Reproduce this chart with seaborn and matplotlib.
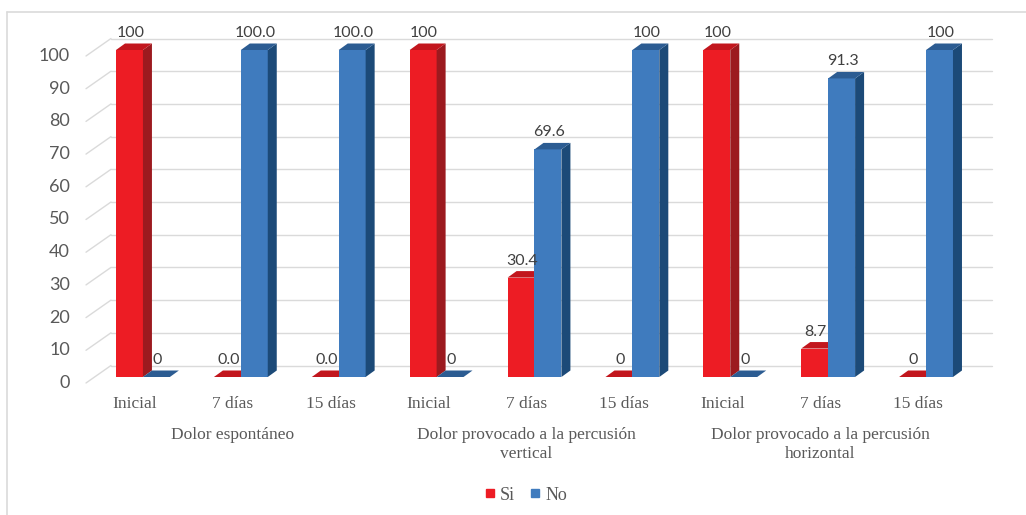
import numpy as np
import pandas as pd
import matplotlib
matplotlib.use("Agg")
import matplotlib.pyplot as plt
import seaborn as sns
from matplotlib.patches import Polygon
from matplotlib.lines import Line2D
from matplotlib.transforms import ScaledTranslation

# ---------------- data ----------------
groups = ["Dolor espontáneo",
          "Dolor provocado a la percusión\nvertical",
          "Dolor provocado a la percusión\nhorizontal"]
times = ["Inicial", "7 días", "15 días"]
series = ["Si", "No"]
si_values = [100, 0, 0, 100, 30.4, 0, 100, 8.7, 0]
no_values = [0, 100, 100, 0, 69.6, 100, 0, 91.3, 100]
si_labels = ["100", "0.0", "0.0", "100", "30.4", "0", "100", "8.7", "0"]
no_labels = ["0", "100.0", "100.0", "0", "69.6", "100", "0", "91.3", "100"]
yticks = [0, 10, 20, 30, 40, 50, 60, 70, 80, 90, 100]

# ---------------- style ----------------
front = {"Si": "#ED1C24", "No": "#3F7BBE"}
side = {"Si": "#9C1A1F", "No": "#1C4A78"}
top = {"Si": "#C2161D", "No": "#2C5C92"}
grid_c = "#DADADA"
txt_c = "#595959"
lab_c = "#404040"

sns.set_style("white")
plt.rcParams["font.family"] = ["Liberation Serif", "DejaVu Serif"]

W, H = 1026, 515
fig = plt.figure(figsize=(W / 100, H / 100), dpi=100)
ax = fig.add_axes([94 / W, (H - 377) / H, 881 / W, 327 / H])

cats = [f"{g}|{t}" for g in groups for t in times]
df = pd.DataFrame({
    "cat": cats * 2,
    "serie": ["Si"] * len(cats) + ["No"] * len(cats),
    "valor": si_values + no_values,
})
sns.barplot(data=df, x="cat", y="valor", hue="serie", order=cats,
            hue_order=series, palette=front, width=0.55, dodge=True,
            saturation=1, errorbar=None, legend=False, ax=ax)
ax.set_xlim(-0.5, len(cats) - 0.5)
ax.set_ylim(0, 100)
ax.set_axis_off()

sx = ax.bbox.width / len(cats)   # px per x unit
sy = ax.bbox.height / 100.0      # px per y unit


def off(dx, dy):
    return ax.transData + ScaledTranslation(dx / 100, dy / 100, fig.dpi_scale_trans)


# back-wall gridlines and floor diagonals
for y in yticks:
    ax.plot([-0.5, len(cats) - 0.5], [y, y], color=grid_c, lw=1,
            transform=off(17, 11.5), clip_on=False, zorder=0.5)
    ax.plot([-0.5 - 8 / sx, -0.5 + 17 / sx], [y - 6 / sy, y + 11.5 / sy],
            color=grid_c, lw=1, clip_on=False, zorder=0.5)
    ax.text(-0.5, y, str(y), transform=off(-24, -6), ha="right", va="center",
            fontsize=13, color=txt_c, family=["Lato", "DejaVu Sans"])

# 3D faces + data labels
ddx, ddy = 9 / sx, 6.5 / sy
n = len(cats)
bars = [p for p in ax.patches]
for k, p in enumerate(bars):
    s = series[k // n]
    i = k % n
    z = 2 if s == "Si" else 3
    p.set_zorder(z)
    p.set_edgecolor("none")
    x0, w, h = p.get_x(), p.get_width(), p.get_height()
    ax.add_patch(Polygon([(x0 + w, 0), (x0 + w + ddx, ddy), (x0 + w + ddx, h + ddy), (x0 + w, h)],
                         closed=True, facecolor=side[s], edgecolor="none", zorder=z, clip_on=False))
    ax.add_patch(Polygon([(x0, h), (x0 + ddx, h + ddy), (x0 + w + ddx, h + ddy), (x0 + w, h)],
                         closed=True, facecolor=top[s], edgecolor="none", zorder=z, clip_on=False))
    lbl = (si_labels if s == "Si" else no_labels)[i]
    ax.annotate(lbl, xy=(x0 + w / 2, h), xytext=(1, 17), textcoords="offset pixels",
                ha="center", va="center", fontsize=11.5, color=lab_c,
                family=["Lato", "DejaVu Sans"], zorder=5, annotation_clip=False)

# category labels
for i, c in enumerate(cats):
    ax.annotate(c.split("|")[1], xy=(i, 0), xytext=(-8, -27), textcoords="offset pixels",
                ha="center", va="center", fontsize=12.5, color=txt_c, annotation_clip=False)
for g, name in enumerate(groups):
    ax.annotate(name, xy=(g * 3 + 1, 0), xytext=(-8, -50), textcoords="offset pixels",
                ha="center", va="top", fontsize=12.5, color=txt_c, linespacing=1.25,
                multialignment="center", annotation_clip=False)

# legend
handles = [Line2D([], [], marker="s", linestyle="None", markersize=5.5,
                  markerfacecolor=front[s], markeredgecolor=front[s]) for s in series]
fig.legend(handles, series, loc="center", bbox_to_anchor=(526 / W, 1 - 495 / H),
           ncol=2, frameon=False, handlelength=0.5, handletextpad=0.3,
           columnspacing=0.9, prop={"family": "Liberation Serif", "size": 13},
           labelcolor=txt_c)

# outer frame
fig.add_artist(Line2D([7 / W, 1], [1 - 12 / H, 1 - 12 / H], transform=fig.transFigure,
                      color=grid_c, lw=1.2))
fig.add_artist(Line2D([7 / W, 7 / W], [0, 1 - 12 / H], transform=fig.transFigure,
                      color=grid_c, lw=1.2))

fig.savefig("out.png", dpi=100)
